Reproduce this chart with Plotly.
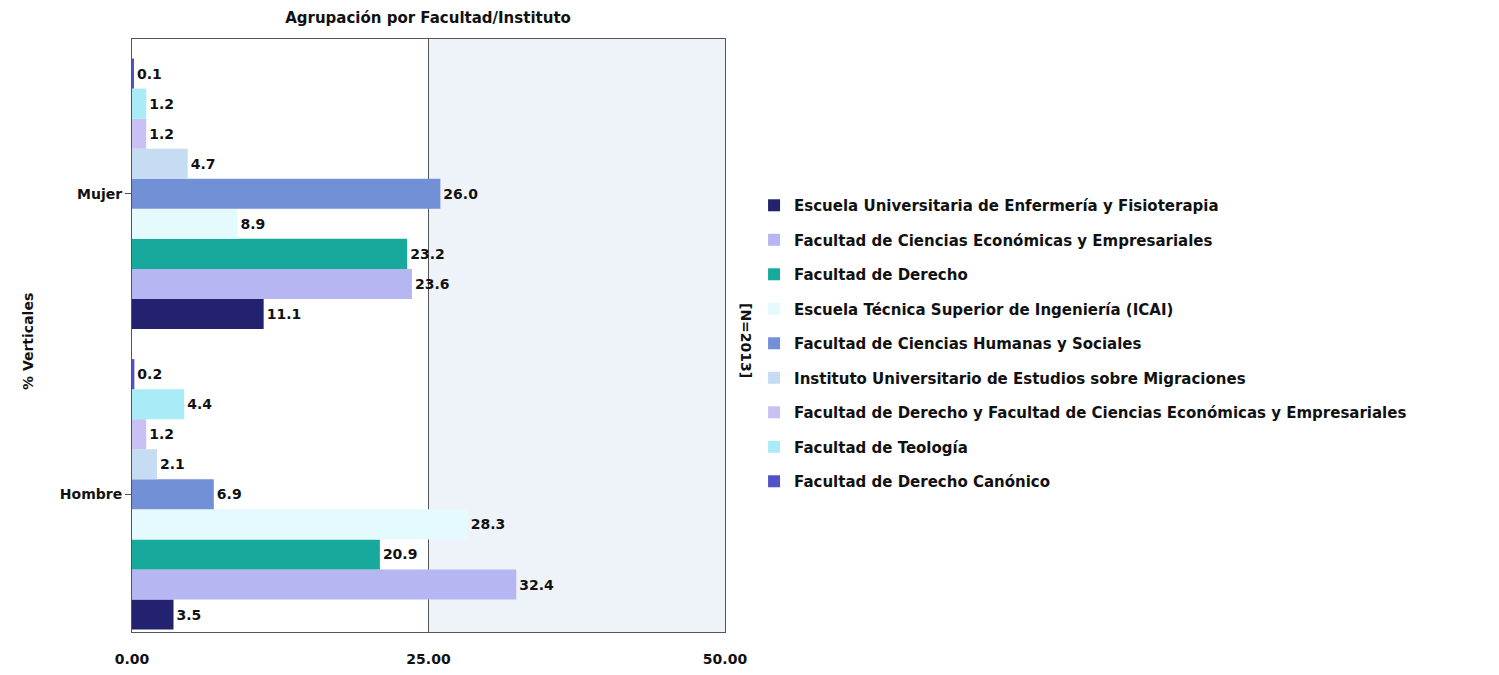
import plotly.graph_objects as go

categories = ["Hombre", "Mujer"]
series_names = [
    "Escuela Universitaria de Enfermería y Fisioterapia",
    "Facultad de Ciencias Económicas y Empresariales",
    "Facultad de Derecho",
    "Escuela Técnica Superior de Ingeniería (ICAI)",
    "Facultad de Ciencias Humanas y Sociales",
    "Instituto Universitario de Estudios sobre Migraciones",
    "Facultad de Derecho y Facultad de Ciencias Económicas y Empresariales",
    "Facultad de Teología",
    "Facultad de Derecho Canónico",
]
hombre_values = [3.5, 32.4, 20.9, 28.3, 6.9, 2.1, 1.2, 4.4, 0.2]
mujer_values = [11.1, 23.6, 23.2, 8.9, 26.0, 4.7, 1.2, 1.2, 0.1]
colors = ["#22226e", "#b6b6f2", "#17a99c", "#e4fafc", "#7190d6",
          "#c6dcf3", "#c9c1f3", "#a9ecf7", "#5252c6"]
x_ticks = [0, 25, 50]

font_family = "DejaVu Sans, Verdana, sans-serif"

ML, MR, MT, MB = 124, 782, 31, 51
W, H = 1499, 675
PW = W - ML - MR
PH = H - MT - MB

fig = go.Figure()
for i, name in enumerate(series_names):
    vals = [hombre_values[i], mujer_values[i]]
    fig.add_trace(go.Bar(
        y=categories, x=vals, name=name, orientation="h",
        marker=dict(color=colors[i], line=dict(width=0)),
        text=[f"{v:.1f}" for v in vals], textposition="outside",
        textfont=dict(family=font_family, size=14, color="#111111", weight="bold"),
        cliponaxis=False, legendgroup=f"g{i}",
    ))

fig.update_layout(
    width=W, height=H,
    barmode="group", bargap=0.1, bargroupgap=0,
    paper_bgcolor="white", plot_bgcolor="white",
    margin=dict(l=ML, r=MR, t=MT, b=MB),
    font=dict(family=font_family, size=14, color="#111111"),
    title=dict(text="<b>Agrupación por Facultad/Instituto</b>", x=420/W, xanchor="center",
               y=1 - 10/H, yanchor="middle", font=dict(size=15)),
    showlegend=True,
    legend=dict(x=1.049, xanchor="left", y=0.747, yanchor="top",
                traceorder="grouped", tracegroupgap=12,
                font=dict(size=15, weight="bold"), itemclick=False,
                bgcolor="rgba(0,0,0,0)"),
    xaxis=dict(range=[0, 50], tickvals=x_ticks, tickformat=".2f",
               showgrid=True, gridcolor="#555555", gridwidth=1,
               showline=True, linecolor="#555555", linewidth=1, mirror=True,
               ticks="", zeroline=False, ticklabelstandoff=14,
               tickfont=dict(size=14, weight="bold")),
    yaxis=dict(categoryorder="array", categoryarray=categories,
               range=[-0.458, 1.515],
               showline=True, linecolor="#555555", linewidth=1, mirror=True,
               ticks="outside", ticklen=6, tickcolor="#555555",
               tickfont=dict(size=14, weight="bold")),
    shapes=[dict(type="rect", xref="x", yref="paper", x0=25, x1=50, y0=0, y1=1,
                 fillcolor="#eef3f9", line=dict(width=0), layer="below")],
    annotations=[
        dict(text="<b>[N=2013]</b>", textangle=90, xref="paper", yref="paper",
             x=(738 - ML) / PW, y=(H - MB - 332) / PH, showarrow=False,
             xanchor="center", yanchor="middle", font=dict(size=14)),
        dict(text="<b>% Verticales</b>", textangle=-90, xref="paper", yref="paper",
             x=(20 - ML) / PW, y=(H - MB - 334) / PH, showarrow=False,
             xanchor="center", yanchor="middle", font=dict(size=14)),
    ],
)

fig.write_html("out.html")
